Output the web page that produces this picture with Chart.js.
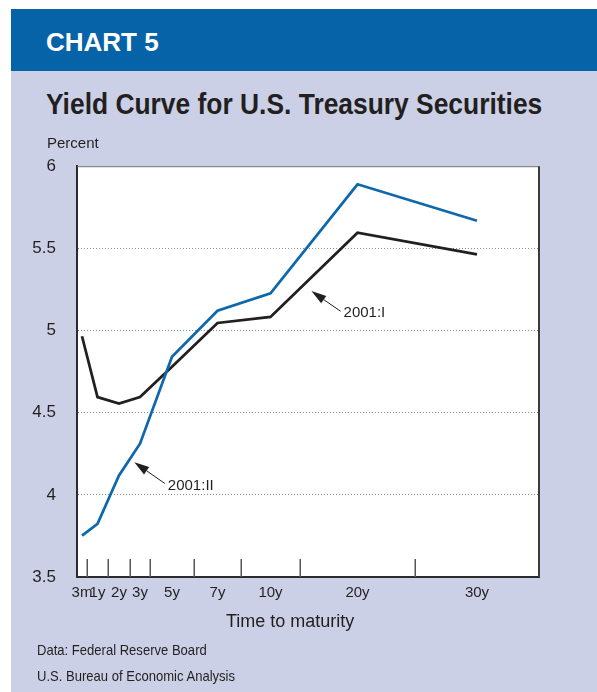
<!DOCTYPE html>
<html>
<head>
<meta charset="utf-8">
<script src="https://cdn.jsdelivr.net/npm/chart.js@4.4.0/dist/chart.umd.min.js"></script>
<style>
  body { margin: 0; background: #fff; }
  #page { position: relative; width: 597px; height: 692px; overflow: hidden; font-family: 'Liberation Sans', Arial, sans-serif; color: #231f20; }
  #header { position: absolute; left: 11px; top: 9px; width: 586px; height: 62px; background: #0763a8; }
  #panel { position: absolute; left: 11px; top: 71px; width: 586px; height: 621px; background: #cbd0e6; }
  .txt { position: absolute; white-space: nowrap; line-height: 1; transform-origin: left top; }
  #chart-box { position: absolute; left: 11px; top: 135px; }
</style>
</head>
<body>
<div id="page">
  <div id="header"></div>
  <div id="panel"></div>
  <div id="chart-box"><canvas id="yieldChart" width="586" height="485"></canvas></div>
  <div class="txt" style="left:46px; top:28.7px; font-size:26px; font-weight:bold; color:#fff;">CHART 5</div>
  <div class="txt" style="left:46px; top:89.8px; font-size:29px; font-weight:bold; transform:scaleX(0.91);">Yield Curve for U.S. Treasury Securities</div>
  <div class="txt" style="left:47px; top:135px; font-size:15px;">Percent</div>
  <div class="txt" style="left:226px; top:611.5px; font-size:18px;">Time to maturity</div>
  <div class="txt" style="left:36.7px; top:642.3px; font-size:15px; transform:scaleX(0.87);">Data: Federal Reserve Board</div>
  <div class="txt" style="left:36.7px; top:668px; font-size:15px; transform:scaleX(0.87);">U.S. Bureau of Economic Analysis</div>
</div>

<script>
// maturities along the x axis
const maturities = ['3m', '1y', '2y', '3y', '5y', '7y', '10y', '20y', '30y'];

// yields, percent
const yields2001I  = [4.965, 4.595, 4.555, 4.595, 4.78, 5.046, 5.083, 5.595, 5.463];
const yields2001II = [3.752, 3.823, 4.118, 4.311, 4.84, 5.12, 5.226, 5.89, 5.668];

const yTicks = [3.5, 4, 4.5, 5, 5.5, 6];

const FONT = "'Liberation Sans', Arial, sans-serif";
const INK = '#231f20';
const BLUE = '#1068ac';

// category axis whose bands have unequal widths
class BandScale extends Chart.CategoryScale {
    static id = 'band';
    static defaults = Chart.CategoryScale.defaults;

    bandEdges() {
        const w = this.options.bandWeights;
        const total = w.reduce((a, b) => a + b, 0);
        const edges = [0];
        w.forEach(v => edges.push(edges[edges.length - 1] + v / total));
        return edges;
    }

    getPixelForBandEdge(i) {
        return this.getPixelForDecimal(this.bandEdges()[i]);
    }

    getPixelForValue(value) {
        if (typeof value !== 'number') value = this.parse(value);
        if (value === null || isNaN(value)) return NaN;
        const e = this.bandEdges();
        const n = e.length - 1;
        const center = i => (e[i] + e[i + 1]) / 2;
        const i0 = Math.max(0, Math.min(n - 2, Math.floor(value)));
        const t = value - i0;
        return this.getPixelForDecimal(center(i0) + t * (center(i0 + 1) - center(i0)));
    }

    getPixelForTick(index) {
        return this.getPixelForValue(index);
    }
}
Chart.register(BandScale);

// arrow labels, positions in (maturity index, percent)
const callouts = [
    { text: '2001:I',  label: [6.84, 5.105], tip: [6.47, 5.24] },
    { text: '2001:II', label: [3.87, 4.057], tip: [2.73, 4.199] }
];

const framePlugin = {
    id: 'frame',
    beforeDraw(chart) {
        const { ctx, chartArea: a } = chart;
        ctx.save();
        ctx.fillStyle = '#fff';
        ctx.fillRect(a.left, a.top, a.right - a.left, a.bottom - a.top);
        ctx.restore();
    },
    beforeDatasetsDraw(chart) {
        const { ctx, chartArea: a } = chart;
        const x = chart.scales.x;
        ctx.save();
        // tick marks between the maturity bands
        ctx.strokeStyle = '#555';
        ctx.lineWidth = 1.5;
        for (let i = 1; i < maturities.length; i++) {
            const px = Math.round(x.getPixelForBandEdge(i)) + 0.25;
            ctx.beginPath();
            ctx.moveTo(px, a.bottom);
            ctx.lineTo(px, a.bottom - 18);
            ctx.stroke();
        }
        // top and right edges of the plot
        ctx.strokeStyle = '#6f6f6f';
        ctx.lineWidth = 1;
        ctx.beginPath();
        ctx.moveTo(a.left, a.top + 0.5);
        ctx.lineTo(a.right, a.top + 0.5);
        ctx.stroke();
        ctx.strokeStyle = '#3a3a3a';
        ctx.lineWidth = 2;
        ctx.beginPath();
        ctx.moveTo(a.right, a.top);
        ctx.lineTo(a.right, a.bottom);
        ctx.stroke();
        ctx.restore();
    },
    afterDatasetsDraw(chart) {
        const { ctx } = chart;
        const x = chart.scales.x, y = chart.scales.y;
        ctx.save();
        ctx.font = '15px ' + FONT;
        ctx.fillStyle = INK;
        ctx.strokeStyle = INK;
        ctx.textBaseline = 'middle';
        ctx.textAlign = 'left';
        callouts.forEach(c => {
            const lx = x.getPixelForValue(c.label[0]);
            const ly = y.getPixelForValue(c.label[1]);
            const tx = x.getPixelForValue(c.tip[0]);
            const ty = y.getPixelForValue(c.tip[1]);
            ctx.fillText(c.text, lx, ly);
            const sx = lx - 3, sy = ly - 2;
            const ang = Math.atan2(ty - sy, tx - sx);
            const len = 15, half = 4.5;
            const bx = tx - len * Math.cos(ang), by = ty - len * Math.sin(ang);
            ctx.lineWidth = 1;
            ctx.beginPath();
            ctx.moveTo(sx, sy);
            ctx.lineTo(bx, by);
            ctx.stroke();
            ctx.beginPath();
            ctx.moveTo(tx, ty);
            ctx.lineTo(bx + half * Math.sin(ang), by - half * Math.cos(ang));
            ctx.lineTo(bx - half * Math.sin(ang), by + half * Math.cos(ang));
            ctx.closePath();
            ctx.fill();
        });
        ctx.restore();
    }
};

const ctx = document.getElementById('yieldChart').getContext('2d');
const yieldChart = new Chart(ctx, {
    type: 'line',
    data: {
        labels: maturities,
        datasets: [
            {
                label: '2001:II',
                data: yields2001II,
                borderColor: BLUE,
                borderWidth: 2.75,
                pointRadius: 0,
                tension: 0,
                borderJoinStyle: 'miter',
                fill: false
            },
            {
                label: '2001:I',
                data: yields2001I,
                borderColor: INK,
                borderWidth: 2.75,
                pointRadius: 0,
                tension: 0,
                borderJoinStyle: 'miter',
                fill: false
            }
        ]
    },
    options: {
        responsive: false,
        animation: false,
        layout: { padding: { top: 1, right: 58, left: 0, bottom: 0 } },
        plugins: {
            legend: { display: false },
            tooltip: { enabled: false },
            title: { display: false }
        },
        scales: {
            x: {
                type: 'band',
                bandWeights: [10, 21, 22, 20, 44, 47, 59, 115, 124],
                grid: { display: false, drawTicks: false },
                border: { display: true, color: '#2b2b2b', width: 2 },
                ticks: {
                    autoSkip: false,
                    maxRotation: 0,
                    minRotation: 0,
                    padding: 7,
                    color: INK,
                    font: { family: FONT, size: 15 }
                },
                afterFit(scale) { scale.height = 43; }
            },
            y: {
                min: 3.5,
                max: 6,
                afterBuildTicks(scale) { scale.ticks = yTicks.map(v => ({ value: v })); },
                grid: {
                    drawTicks: false,
                    lineWidth: 1,
                    color: c => (c.tick && c.tick.value > 3.5 && c.tick.value < 6) ? '#8c8c8c' : 'rgba(0,0,0,0)'
                },
                border: { display: true, color: '#2b2b2b', width: 2, dash: [1, 2] },
                ticks: {
                    padding: 21,
                    color: INK,
                    font: { family: FONT, size: 17 },
                    callback: v => String(v)
                },
                afterFit(scale) { scale.width = 66; }
            }
        }
    },
    plugins: [framePlugin]
});
</script>
</body>
</html>
